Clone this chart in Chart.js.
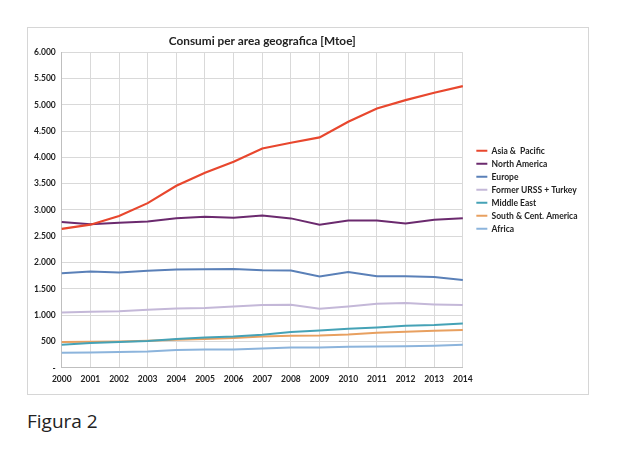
<!DOCTYPE html>
<html>
<head>
<meta charset="utf-8">
<script src="https://cdn.jsdelivr.net/npm/chart.js@4"></script>
<style>
  body { margin: 0; background: #fff; width: 620px; height: 457px; position: relative; font-family: Lato, sans-serif; }
  #box { position: absolute; left: 27px; top: 27px; width: 562px; height: 368px; border: 1px solid #d6d6d6; box-sizing: border-box; }
  #caption { position: absolute; left: 27px; top: 408px; font-family: "Open Sans", sans-serif; font-size: 19px; color: #222; }
</style>
</head>
<body>
<div id="box"><canvas id="chart"></canvas></div>
<div id="caption">Figura 2</div>
<script>
const years = ["2000","2001","2002","2003","2004","2005","2006","2007","2008","2009","2010","2011","2012","2013","2014"];
const asiaPacific   = [2640, 2720, 2886, 3130, 3460, 3709, 3917, 4170, 4278, 4380, 4677, 4930, 5089, 5228, 5354];
const northAmerica  = [2772, 2730, 2755, 2780, 2845, 2870, 2850, 2895, 2840, 2720, 2800, 2800, 2745, 2815, 2845];
const europe        = [1797, 1830, 1810, 1843, 1868, 1875, 1880, 1855, 1848, 1735, 1820, 1740, 1740, 1725, 1670];
const formerUrss    = [1052, 1065, 1077, 1103, 1128, 1135, 1166, 1192, 1198, 1122, 1166, 1218, 1230, 1205, 1192];
const middleEast    = [436, 470, 490, 508, 546, 577, 596, 628, 679, 710, 742, 767, 799, 812, 843];
const southAmerica  = [490, 495, 500, 514, 533, 546, 565, 596, 609, 615, 634, 666, 685, 704, 717];
const africa        = [285, 292, 298, 310, 336, 348, 350, 367, 386, 386, 399, 405, 412, 418, 436];

function line(label, data, color, width) {
  return { label: label, data: data, borderColor: color, backgroundColor: color,
           borderWidth: width, pointRadius: 0, fill: false, tension: 0 };
}

const tickFont = { family: "Lato", size: 8.5, weight: "bold" };

// push the legend a little away from the plot (Excel leaves a gap there)
const legendGap = {
  id: "legendGap",
  afterLayout(chart) {
    chart.legend.left += 9;
    chart.legend.right += 9;
  },
};

const ctx = document.getElementById("chart");
new Chart(ctx, {
  type: "line",
  data: {
    labels: years,
    datasets: [
      line("Asia &  Pacific", asiaPacific, "#e8472e", 2.2),
      line("North America", northAmerica, "#6b2a6e", 2),
      line("Europe", europe, "#5a80b8", 2),
      line("Former URSS + Turkey", formerUrss, "#c4b8d8", 2),
      line("Middle East", middleEast, "#45a2b6", 2),
      line("South & Cent. America", southAmerica, "#e8a060", 2),
      line("Africa", africa, "#8cb4dc", 2),
    ],
  },
  plugins: [legendGap],
  options: {
    responsive: true,
    maintainAspectRatio: false,
    animation: false,
    layout: { padding: { top: 0, right: 9.5, bottom: 4, left: 0 } },
    plugins: {
      title: {
        display: true,
        fullSize: false,
        text: "Consumi per area geografica [Mtoe]",
        color: "#222",
        font: { family: "Lato", size: 11.8, weight: "bold" },
        padding: { top: 6, bottom: 4 },
      },
      legend: {
        position: "right",
        align: "start",
        title: { display: true, text: "", padding: { top: 104.5, bottom: 0 }, font: { size: 8 } },
        labels: {
          color: "#222",
          font: { family: "Lato", size: 8.5, weight: "bold" },
          boxWidth: 11,
          boxHeight: 2,
          padding: 4.5,
          generateLabels: (chart) => chart.data.datasets.map((ds, i) => ({
            text: ds.label, fillStyle: ds.borderColor, strokeStyle: ds.borderColor,
            lineWidth: 0, hidden: false, datasetIndex: i, fontColor: "#222",
          })),
        },
      },
      tooltip: { enabled: false },
    },
    scales: {
      x: {
        grid: { color: "#d9d9d9", drawTicks: false },
        border: { color: "#bfbfbf" },
        ticks: { color: "#222", font: tickFont, padding: 6, maxRotation: 0 },
      },
      y: {
        min: 0,
        max: 6000,
        grid: { color: "#d9d9d9", drawTicks: false },
        border: { color: "#bfbfbf" },
        ticks: {
          stepSize: 500,
          color: "#222",
          font: tickFont,
          padding: 6,
          callback: (v) => v === 0 ? "-" : v.toLocaleString("it-IT").replace(/\s/g, "."),
        },
      },
    },
  },
});
</script>
</body>
</html>
